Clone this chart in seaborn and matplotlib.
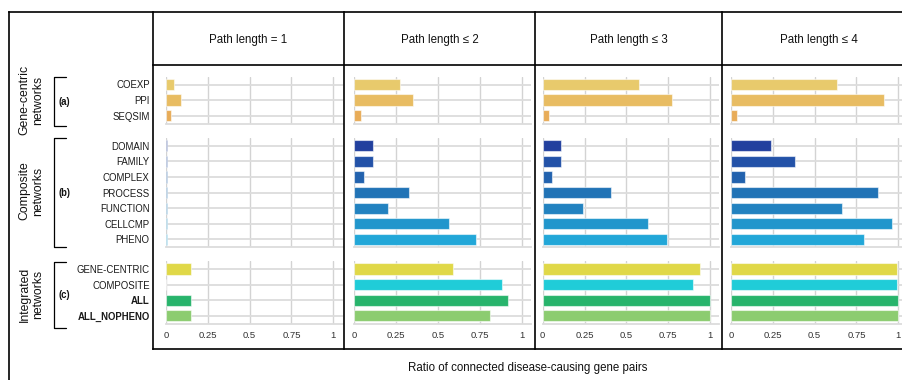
import matplotlib
matplotlib.use("Agg")
import matplotlib.pyplot as plt
from matplotlib.lines import Line2D
import seaborn as sns
import pandas as pd

# --- data -------------------------------------------------------------
gene_centric = ["COEXP", "PPI", "SEQSIM"]
composite = ["DOMAIN", "FAMILY", "COMPLEX", "PROCESS", "FUNCTION", "CELLCMP", "PHENO"]
integrated = ["GENE-CENTRIC", "COMPOSITE", "ALL", "ALL_NOPHENO"]

path_titles = ["Path length = 1", "Path length \u2264 2", "Path length \u2264 3", "Path length \u2264 4"]

# ratio of connected disease-causing gene pairs, in the order
# gene_centric + composite + integrated
ratio_len1 = [0.050, 0.088, 0.030,
              0.003, 0.003, 0.003, 0.003, 0.003, 0.003, 0.003,
              0.150, 0.000, 0.150, 0.150]
ratio_len2 = [0.273, 0.350, 0.038,
              0.110, 0.110, 0.058, 0.325, 0.203, 0.568, 0.727,
              0.588, 0.882, 0.920, 0.810]
ratio_len3 = [0.578, 0.771, 0.038,
              0.111, 0.111, 0.056, 0.406, 0.243, 0.631, 0.743,
              0.940, 0.898, 0.998, 0.998]
ratio_len4 = [0.634, 0.916, 0.036,
              0.239, 0.384, 0.084, 0.879, 0.661, 0.964, 0.793,
              0.993, 0.993, 0.997, 0.997]

group_letters = ["(a)", "(b)", "(c)"]
group_titles = ["Gene-centric\nnetworks", "Composite\nnetworks", "Integrated\nnetworks"]
x_ticks = [0, 0.25, 0.5, 0.75, 1]
x_tick_labels = ["0", "0.25", "0.5", "0.75", "1"]
x_title = "Ratio of connected disease-causing gene pairs"

colors = {
    "COEXP": "#E8CA6C", "PPI": "#E8BC62", "SEQSIM": "#E8AC58",
    "DOMAIN": "#22409E", "FAMILY": "#2352A8", "COMPLEX": "#2262AE",
    "PROCESS": "#2173B6", "FUNCTION": "#2282C0", "CELLCMP": "#2196CC",
    "PHENO": "#22A7D8",
    "GENE-CENTRIC": "#E0D848", "COMPOSITE": "#20CCD8", "ALL": "#28B46C",
    "ALL_NOPHENO": "#8CCC70",
}

groups = [gene_centric, composite, integrated]
all_networks = gene_centric + composite + integrated
group_of = {n: gi for gi, g in enumerate(groups) for n in g}

rows = []
for pi, vals in enumerate([ratio_len1, ratio_len2, ratio_len3, ratio_len4]):
    for name, v in zip(all_networks, vals):
        rows.append({"network": name, "group": group_of[name], "path": pi, "ratio": v})
df = pd.DataFrame(rows)

# --- figure -----------------------------------------------------------
sns.set_theme(style="white")
plt.rcParams["font.family"] = ["Liberation Sans", "DejaVu Sans"]

W, H = 903, 380
fig = plt.figure(figsize=(W / 100, H / 100), dpi=100)


def fx(px):
    return px / W


def fy(py):
    return 1 - py / H


col_zero = [166.0, 354.3, 542.7, 731.0]   # pixel x of value 0 in each column
unit = 167.3                               # pixels per unit of ratio
xmax = 1.055
row_px = 15.6
group_top = [76.7, 138.0, 261.2]

grid_v = "#D3D3D3"
grid_h = "#DCDCDC"

for ci in range(4):
    for gi, names in enumerate(groups):
        n = len(names)
        top = group_top[gi]
        h = n * row_px
        ax = fig.add_axes([fx(col_zero[ci]), fy(top + h), xmax * unit / W, h / H])
        sub = df[(df.path == ci) & (df.group == gi)]
        sns.barplot(data=sub, x="ratio", y="network", hue="network",
                    order=names, hue_order=names, palette=colors,
                    orient="h", width=0.72, dodge=False, saturation=1,
                    errorbar=None, legend=False, ax=ax,
                    edgecolor=(1, 1, 1, 0.55), linewidth=0.8)
        ax.set_xlim(0, xmax)
        ax.set_ylim(n - 0.5, -0.5)
        ax.set_axisbelow(True)
        ax.xaxis.grid(True, color=grid_v, lw=1.0)
        ax.yaxis.grid(True, color=grid_h, lw=1.3)
        ax.set_xticks(x_ticks)
        ax.set_xlabel("")
        ax.set_ylabel("")
        for s in ["top", "left", "right"]:
            ax.spines[s].set_visible(False)
        ax.spines["bottom"].set_color(grid_h)
        ax.spines["bottom"].set_linewidth(1.3)
        ax.tick_params(axis="both", length=0)
        if gi == 2:
            ax.set_xticklabels(x_tick_labels, fontsize=6.8, color="#333333")
            ax.tick_params(axis="x", pad=5)
        else:
            ax.set_xticklabels([])
        if ci == 0:
            ax.set_yticks(range(n))
            ax.set_yticklabels(names, fontsize=6.9, color="#1a1a1a")
            ax.tick_params(axis="y", pad=11.7)
            for lab in ax.get_yticklabels():
                if lab.get_text() in ("ALL", "ALL_NOPHENO"):
                    lab.set_fontweight("bold")
        else:
            ax.set_yticklabels([])

# --- frame lines ------------------------------------------------------
lw_frame = 1.2


def fline(x0, y0, x1, y1):
    fig.add_artist(Line2D([fx(x0), fx(x1)], [fy(y0), fy(y1)],
                          transform=fig.transFigure, color="black",
                          lw=lw_frame, solid_capstyle="projecting"))


fline(9, 12, 903, 12)          # top
fline(9, 12, 9, 380)           # left
fline(153, 65, 903, 65)        # under headers
fline(153, 349, 903, 349)      # bottom of panels
for xs in [153, 344, 535, 722]:
    fline(xs, 12, xs, 349)

# column headers
header_x = [248.5, 439.5, 628.5, 819.0]
for x, t in zip(header_x, path_titles):
    fig.text(fx(x), fy(39.5), t, ha="center", va="center", fontsize=8.3, color="#111111")

# brackets, group letters and group titles
brackets = [(76.7, 126.0), (137.5, 247.0), (261.5, 327.5)]
title_y = [100.0, 191.0, 294.0]
for (y0, y1), letter, title, ty in zip(brackets, group_letters, group_titles, title_y):
    fig.add_artist(Line2D([fx(66), fx(54), fx(54), fx(66)],
                          [fy(y0), fy(y0), fy(y1), fy(y1)],
                          transform=fig.transFigure, color="black", lw=0.9))
    fig.text(fx(64.7), fy((y0 + y1) / 2 + 0.8), letter, ha="center", va="center",
             fontsize=6.9, fontweight="bold", color="#111111")
    fig.text(fx(31.5), fy(ty), title, ha="center", va="center", rotation=90,
             fontsize=8.8, linespacing=1.2, color="#111111", multialignment="center")

fig.text(fx(528), fy(368), x_title, ha="center", va="center", fontsize=8.3, color="#111111")

fig.savefig("out.png", dpi=100, facecolor="white")
